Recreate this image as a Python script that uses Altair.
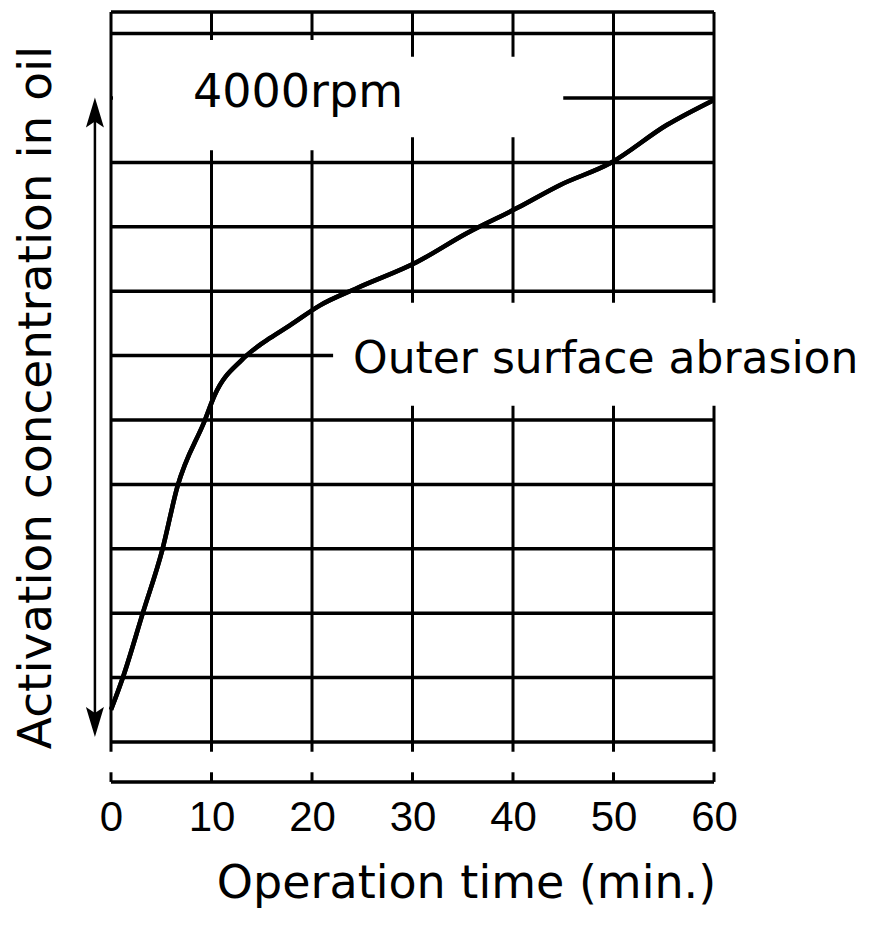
import altair as alt
import pandas as pd

# ---- data ----
time_min = [0, 1.2, 3.2, 5.1, 6.6, 9.35, 10.3, 13.0, 14.5, 15.8, 17.8, 20.8, 24.5, 30.4, 35.4, 40.4, 44.7, 49.7, 55.3, 60]
concentration = [0.5, 1.01, 2.02, 2.98, 3.96, 5.0, 5.38, 5.93, 6.13, 6.27, 6.47, 6.78, 7.05, 7.45, 7.9, 8.29, 8.65, 8.99, 9.58, 9.97]

x_ticks = [0, 10, 20, 30, 40, 50, 60]
h_grid = [0, 1, 2, 3, 4, 5, 6, 7, 8, 9, 10, 11]
Y_TOP = 11.335

x_title = "Operation time (min.)"
y_title = "Activation concentration in oil"
label_rpm = "4000rpm"
label_abrasion = "Outer surface abrasion"

curve = pd.DataFrame({"t": time_min, "c": concentration})

xs = alt.Scale(domain=[0, 60], nice=False, zero=False)
ys = alt.Scale(domain=[0, Y_TOP], nice=False, zero=False)

FONT = "DejaVu Sans"

X_AXIS = alt.Axis(
    orient="bottom", offset=40, domain=False, ticks=False, grid=False,
    values=x_ticks, format="d", labelFlush=False,
    labelFont="Liberation Sans", labelFontSize=42, labelColor="black",
    labelPadding=15,
    title=x_title, titleFont=FONT, titleFontSize=46,
    titleFontWeight="normal", titleColor="black",
    titleX=355, titleY=115, titleAlign="center", titleBaseline="alphabetic",
)
Y_AXIS = alt.Axis(
    orient="left", domain=False, ticks=False, labels=False, grid=False,
    title=y_title, titleFont=FONT, titleFontSize=47,
    titleFontWeight="normal", titleColor="black",
    titleX=-61, titleY=385, titleAngle=270, titleAlign="center",
    titleBaseline="alphabetic",
)


def X(field):
    return alt.X(field, type="quantitative", scale=xs, axis=X_AXIS)


def Y(field):
    return alt.Y(field, type="quantitative", scale=ys, axis=Y_AXIS)


# horizontal grid lines (including top border)
hdf = pd.DataFrame({"y": h_grid + [Y_TOP], "x0": 0, "x1": 60})
hlines = alt.Chart(hdf).mark_rule(color="black", strokeWidth=3.5).encode(
    x=X("x0"), x2="x1", y=Y("y"),
)

# vertical grid lines
vdf = pd.DataFrame({"x": x_ticks, "y0": -0.15, "y1": Y_TOP})
vlines = alt.Chart(vdf).mark_rule(color="black", strokeWidth=3).encode(
    x=X("x"), y=Y("y0"), y2="y1",
)

# white label boxes that interrupt the grid
bdf = pd.DataFrame({
    "x0": [0.2, 3.9, 22.1],
    "x1": [45.0, 23.8, 76.5],
    "y0": [9.39, 9.19, 5.22],
    "y1": [10.64, 10.9, 6.82],
})
boxes = alt.Chart(bdf).mark_rect(color="white").encode(
    x=X("x0"), x2="x1", y=Y("y0"), y2="y1",
)

# separate time axis line with upward ticks
axdf = pd.DataFrame({"x0": [0], "x1": [60], "y": [-0.62]})
axline = alt.Chart(axdf).mark_rule(color="black", strokeWidth=3.5).encode(
    x=X("x0"), x2="x1", y=Y("y"),
)
tdf = pd.DataFrame({"x": x_ticks, "y0": -0.62, "y1": -0.47})
axticks = alt.Chart(tdf).mark_rule(color="black", strokeWidth=3).encode(
    x=X("x"), y=Y("y0"), y2="y1",
)

# the curve
line = alt.Chart(curve).mark_line(color="black", strokeWidth=4.5, interpolate="monotone").encode(
    x=X("t"), y=Y("c"),
)

# annotations
rpm = alt.Chart(pd.DataFrame({"label": [label_rpm], "t": [8.16], "y": [9.86]})).mark_text(
    align="left", baseline="alphabetic", font=FONT, fontSize=46, color="black"
).encode(x=X("t"), y=Y("y"), text="label:N")

abrasion = alt.Chart(pd.DataFrame({"label": [label_abrasion], "t": [24.08], "y": [5.73]})).mark_text(
    align="left", baseline="alphabetic", font=FONT, fontSize=44, color="black"
).encode(x=X("t"), y=Y("y"), text="label:N")

# double-headed arrow on the left
shaft = alt.Chart(pd.DataFrame({"x": [-1.6], "y0": [0.31], "y1": [9.775]})).mark_rule(
    color="black", strokeWidth=2.5
).encode(x=X("x"), y=Y("y0"), y2="y1")
head_up = alt.Chart(pd.DataFrame({"x": [-1.6], "y": [9.775]})).mark_point(
    shape="M0,-1L0.6,1L0,0.6L-0.6,1Z", size=900, filled=True, color="black", opacity=1
).encode(x=X("x"), y=Y("y"))
head_down = alt.Chart(pd.DataFrame({"x": [-1.6], "y": [0.31]})).mark_point(
    shape="M0,1L0.6,-1L0,-0.6L-0.6,-1Z", size=900, filled=True, color="black", opacity=1
).encode(x=X("x"), y=Y("y"))

chart = alt.layer(
    line, hlines, vlines, boxes, axline, axticks, line, rpm, abrasion, shaft, head_up, head_down
).properties(
    width=603, height=730,
    padding={"left": 103, "top": 4, "right": 163, "bottom": 175},
    autosize=alt.AutoSizeParams(type="none"),
).configure_view(stroke=None)

chart.save("out.html", embed_options={"renderer": "svg", "actions": False})
